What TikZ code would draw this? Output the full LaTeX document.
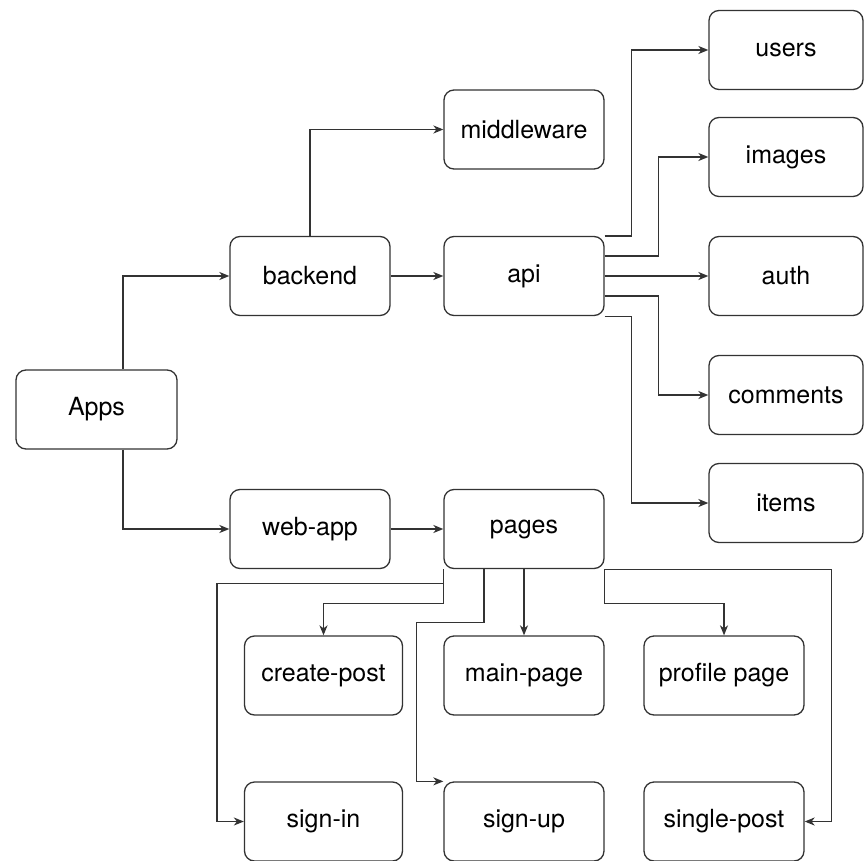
\documentclass[tikz,border=0pt]{standalone}
\usepackage{fontspec}
\setmainfont{TeX Gyre Heros}
\usetikzlibrary{arrows.meta}
\definecolor{ink}{HTML}{333333}
\tikzset{
  box/.style={draw=ink, line width=1.3pt, rounded corners=10pt, fill=white,
    minimum width=160pt, minimum height=79pt, inner sep=0pt,
    font=\fontsize{25}{29}\selectfont, text=black},
  link/.style={draw=ink, line width=1.3pt,
    -{Stealth[length=10pt,width=8pt,inset=3pt]}},
}
\begin{document}
\begin{tikzpicture}[x=1pt, y=-1pt]
  \useasboundingbox (0,0) rectangle (864,861);
  \begin{scope}
  \clip (0,0) rectangle (864,861);
  % root
  \node[box, minimum width=161pt] (apps) at (96.5,409.5) {Apps};
  % second level
  \node[box] (backend) at (310,276) {backend};
  \node[box] (webapp) at (310,529) {web-app};
  % backend children
  \node[box] (middleware) at (524,129.5) {middleware};
  \node[box] (api) at (524,276) {api};
  % api endpoints
  \node[box, minimum width=154pt] (users) at (786,50) {users};
  \node[box, minimum width=154pt] (images) at (786,157) {images};
  \node[box, minimum width=154pt] (auth) at (786,276) {auth};
  \node[box, minimum width=154pt] (comments) at (786,395) {comments};
  \node[box, minimum width=154pt] (items) at (786,503) {items};
  % web-app pages
  \node[box] (pages) at (524,529) {pages};
  \node[box, minimum width=158pt] (createpost) at (323.5,675.5) {create-post};
  \node[box] (mainpage) at (524,675.5) {main-page};
  \node[box] (profile) at (724,675.5) {profile page};
  \node[box, minimum width=158pt] (signin) at (323.5,821.5) {sign-in};
  \node[box] (signup) at (524,821.5) {sign-up};
  \node[box] (singlepost) at (724,821.5) {single-post};

  % turning points of the longer routes
  \coordinate (sinturn) at ([xshift=-27pt]signin.west);
  \coordinate (supturn) at ([xshift=-27pt]signup.north west);

  % Apps branches
  \draw[link] ([xshift=26.5pt]apps.north) |- (backend.west);
  \draw[link] ([xshift=26.5pt]apps.south) |- (webapp.west);
  % backend
  \draw[link] (backend.north) |- (middleware.west);
  \draw[link] (backend.east) -- (api.west);
  % api fan-out
  \draw[link] (api.north east) -- ++(27,0) |- (users.west);
  \draw[link] ([yshift=-20pt]api.north east) -- ++(54,0) |- (images.west);
  \draw[link] (api.east) -- (auth.west);
  \draw[link] ([yshift=-20pt]api.east) -- ++(54,0) |- (comments.west);
  \draw[link] (api.south east) -- ++(27,0) |- (items.west);
  % web-app
  \draw[link] (webapp.east) -- (pages.west);
  % pages fan-out
  \draw[link] (pages.south west) -- ++(0,14) -| (sinturn) -- (signin.west);
  \draw[link] (pages.south west) -- ++(0,34) -| (createpost.north);
  \draw[link] ([xshift=-40pt]pages.south) -- ++(0,53) -| (supturn) -- (signup.north west);
  \draw[link] (pages.south) -- (mainpage.north);
  \draw[link] (pages.south east) -- ++(0,34) -| (profile.north);
  \draw[link] (pages.south east) -- ++(227,0) |- (singlepost.east);
  \end{scope}
\end{tikzpicture}
\end{document}
